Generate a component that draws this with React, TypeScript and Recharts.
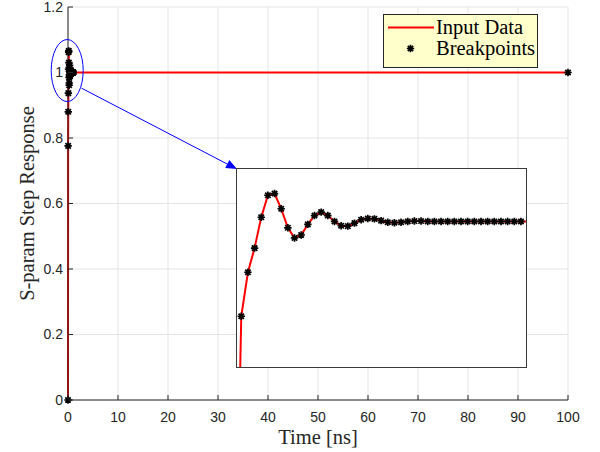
import React from "react";
import {
  CartesianGrid,
  ComposedChart,
  Label,
  Legend,
  Line,
  ReferenceDot,
  ReferenceLine,
  Scatter,
  XAxis,
  YAxis,
} from "recharts";

// sampled step response (ns) plus the final settled point
const TIME_NS = [
  0, 0.025, 0.05, 0.075, 0.1, 0.125, 0.15, 0.175, 0.2, 0.225, 0.25, 0.275, 0.3, 0.325, 0.35,
  0.375, 0.4, 0.425, 0.45, 0.475, 0.5, 0.525, 0.55, 0.575, 0.6, 0.625, 0.65, 0.675, 0.7, 0.725,
  0.75, 0.775, 0.8, 0.825, 0.85, 0.875, 0.9, 0.925, 0.95, 0.975, 1.0, 1.025, 1.05, 1.075, 100,
];
const STEP_RESPONSE = [
  0, 0.776, 0.88, 0.937, 1.01, 1.062, 1.066, 1.03, 0.985, 0.961, 0.968, 0.993, 1.014, 1.022, 1.014,
  1.0, 0.99, 0.989, 0.996, 1.004, 1.007, 1.006, 1.002, 0.998, 0.997, 0.998, 1.0, 1.001, 1.001, 1.0,
  1.0, 1.0, 1.0, 1.0, 1.0, 1.0, 1.0, 1.0, 1.0, 1.0, 1.0, 1.0, 1.0, 1.0, 1.0,
];

const X_TICKS = [0, 10, 20, 30, 40, 50, 60, 70, 80, 90, 100];
const Y_TICKS = [0, 0.2, 0.4, 0.6, 0.8, 1, 1.2];
const SERIES_NAMES = ["Input Data", "Breakpoints"];

// zoom window shown in the inset
const INSET_X_RANGE = [0.009, 1.094];
const INSET_Y_RANGE = [0.656, 1.124];
const ZOOM_CENTER = { x: -0.16, y: 1.006 };
const ARROW_FROM = { x: 2.73, y: 0.952 };
const ARROW_TO = { x: 33.8, y: 0.705 };

const W = 600;
const H = 452;
const MARGIN = { top: 7, right: 32, bottom: 0, left: 0 };
const INSET_BOX = { left: 237, top: 169, width: 289, height: 198 };

const AXIS_COLOR = "#262626";
const GRID_COLOR = "#e4e4e4";
const TICK_FONT = "'Liberation Sans', Arial, sans-serif";
const TICK_SIZE = 14;
const LABEL_FONT = "'Liberation Serif', 'Times New Roman', serif";
const LABEL_SIZE = 20.5;
const TICK_LEN = 5;
const X_GAP = 12;
const Y_GAP = 5;

const data = TIME_NS.map((t, i) => ({ t, v: STEP_RESPONSE[i] }));

const fmtY = (v: number) => String(Number(v.toFixed(1)));

function Asterisk({ cx, cy }: any) {
  if (cx == null || cy == null) return null;
  const r = 3.7;
  const d = 2.7;
  return (
    <path
      d={`M${cx - r},${cy}H${cx + r}M${cx},${cy - r}V${cy + r}M${cx - d},${cy - d}L${cx + d},${cy + d}M${cx - d},${cy + d}L${cx + d},${cy - d}`}
      stroke="#000"
      strokeWidth={1.7}
      fill="none"
    />
  );
}

// ticks point into the plot, MATLAB style
function BottomTick({ x, y, payload }: any) {
  return (
    <g>
      <line x1={x} x2={x} y1={y - X_GAP} y2={y - X_GAP - TICK_LEN} stroke={AXIS_COLOR} />
      <text x={x} y={y} dy="0.71em" textAnchor="middle" fontSize={TICK_SIZE} fontFamily={TICK_FONT} fill={AXIS_COLOR}>
        {payload.value}
      </text>
    </g>
  );
}

function TopTick({ x, y }: any) {
  return <line x1={x} x2={x} y1={y} y2={y + TICK_LEN} stroke={AXIS_COLOR} />;
}

function LeftTick({ x, y, payload }: any) {
  return (
    <g>
      <line x1={x + Y_GAP} x2={x + Y_GAP + TICK_LEN} y1={y} y2={y} stroke={AXIS_COLOR} />
      <text x={x} y={y} dy="0.355em" textAnchor="end" fontSize={TICK_SIZE} fontFamily={TICK_FONT} fill={AXIS_COLOR}>
        {fmtY(payload.value)}
      </text>
    </g>
  );
}

function RightTick({ x, y }: any) {
  return <line x1={x} x2={x - TICK_LEN} y1={y} y2={y} stroke={AXIS_COLOR} />;
}

function Arrow({ x1, y1, x2, y2 }: any) {
  const ang = Math.atan2(y2 - y1, x2 - x1);
  const len = 11;
  const half = 4.5;
  const bx = x2 - len * Math.cos(ang);
  const by = y2 - len * Math.sin(ang);
  const px = -Math.sin(ang) * half;
  const py = Math.cos(ang) * half;
  return (
    <g>
      <line x1={x1} y1={y1} x2={bx} y2={by} stroke="#0000ff" strokeWidth={1} />
      <polygon points={`${x2},${y2} ${bx + px},${by + py} ${bx - px},${by - py}`} fill="#0000ff" />
    </g>
  );
}

function ZoomEllipse({ cx, cy }: any) {
  return <ellipse cx={cx} cy={cy} rx={16} ry={31} fill="none" stroke="#0000ff" strokeWidth={1} />;
}

function LegendBox() {
  return (
    <div
      style={{
        width: 155,
        height: 54,
        boxSizing: "border-box",
        border: `1px solid ${AXIS_COLOR}`,
        background: "#ffffcc",
        fontFamily: LABEL_FONT,
        fontSize: LABEL_SIZE,
        color: "#000",
        position: "relative",
        whiteSpace: "nowrap",
      }}
    >
      <svg width={50} height={52} style={{ position: "absolute", left: 0, top: 0 }}>
        <line x1={4} x2={50} y1={12.5} y2={12.5} stroke="#ff0000" strokeWidth={2} />
        <Asterisk cx={26.5} cy={33.5} />
      </svg>
      <div style={{ position: "absolute", left: 52, top: 1, lineHeight: "22px" }}>{SERIES_NAMES[0]}</div>
      <div style={{ position: "absolute", left: 52, top: 22, lineHeight: "22px" }}>{SERIES_NAMES[1]}</div>
    </div>
  );
}

function YLabel({ viewBox }: any) {
  const cx = viewBox.x + 27;
  const cy = viewBox.y + viewBox.height / 2;
  return (
    <text
      transform={`translate(${cx},${cy}) rotate(-90)`}
      textAnchor="middle"
      dominantBaseline="central"
      fontSize={LABEL_SIZE}
      fontFamily={LABEL_FONT}
      fill={AXIS_COLOR}
    >
      S-param Step Response
    </text>
  );
}

function InsetChart() {
  return (
    <div
      style={{
        position: "absolute",
        ...INSET_BOX,
        background: "#fff",
        outline: "1.5px solid #3a3a3a",
      }}
    >
      <ComposedChart width={INSET_BOX.width} height={INSET_BOX.height} data={data} margin={{ top: 0, right: 0, bottom: 0, left: 0 }}>
        <XAxis type="number" dataKey="t" domain={INSET_X_RANGE} allowDataOverflow hide />
        <YAxis type="number" domain={INSET_Y_RANGE} allowDataOverflow hide />
        <Line dataKey="v" stroke="#ff0000" strokeWidth={2} dot={false} isAnimationActive={false} />
        <Scatter dataKey="v" shape={<Asterisk />} isAnimationActive={false} />
      </ComposedChart>
    </div>
  );
}

export default function App() {
  return (
    <div style={{ position: "absolute", left: 0, top: 0, width: W, height: H, background: "#fff" }}>
      <ComposedChart width={W} height={H} data={data} margin={MARGIN}>
        <CartesianGrid stroke={GRID_COLOR} />
        <XAxis
          type="number"
          dataKey="t"
          domain={[0, 100]}
          ticks={X_TICKS}
          interval={0}
          height={52}
          tickSize={0}
          tickMargin={X_GAP}
          stroke={AXIS_COLOR}
          tick={<BottomTick />}
        >
          <Label value="Time [ns]" position="insideBottom" offset={8} fontSize={LABEL_SIZE} fontFamily={LABEL_FONT} fill={AXIS_COLOR} />
        </XAxis>
        <XAxis
          xAxisId="top"
          orientation="top"
          type="number"
          domain={[0, 100]}
          ticks={X_TICKS}
          interval={0}
          height={0}
          tickSize={0}
          tickMargin={0}
          stroke={AXIS_COLOR}
          tick={<TopTick />}
        />
        <YAxis
          type="number"
          domain={[0, 1.2]}
          ticks={Y_TICKS}
          interval={0}
          width={68}
          tickSize={0}
          tickMargin={Y_GAP}
          stroke={AXIS_COLOR}
          tick={<LeftTick />}
        >
          <Label content={<YLabel />} />
        </YAxis>
        <YAxis
          yAxisId="right"
          orientation="right"
          type="number"
          domain={[0, 1.2]}
          ticks={Y_TICKS}
          interval={0}
          width={0}
          tickSize={0}
          tickMargin={0}
          stroke={AXIS_COLOR}
          tick={<RightTick />}
        />
        <Line name={SERIES_NAMES[0]} dataKey="v" stroke="#ff0000" strokeWidth={2} dot={false} isAnimationActive={false} />
        <Scatter name={SERIES_NAMES[1]} dataKey="v" fill="#000" shape={<Asterisk />} isAnimationActive={false} />
        <ReferenceDot x={ZOOM_CENTER.x} y={ZOOM_CENTER.y} ifOverflow="visible" shape={<ZoomEllipse />} />
        <ReferenceLine
          segment={[ARROW_FROM, ARROW_TO]}
          ifOverflow="visible"
          shape={<Arrow />}
        />
        <Legend
          layout="horizontal"
          verticalAlign="middle"
          align="center"
          content={<LegendBox />}
          wrapperStyle={{ left: 383, top: 14, width: 155, height: 54 }}
        />
      </ComposedChart>
      <InsetChart />
    </div>
  );
}
